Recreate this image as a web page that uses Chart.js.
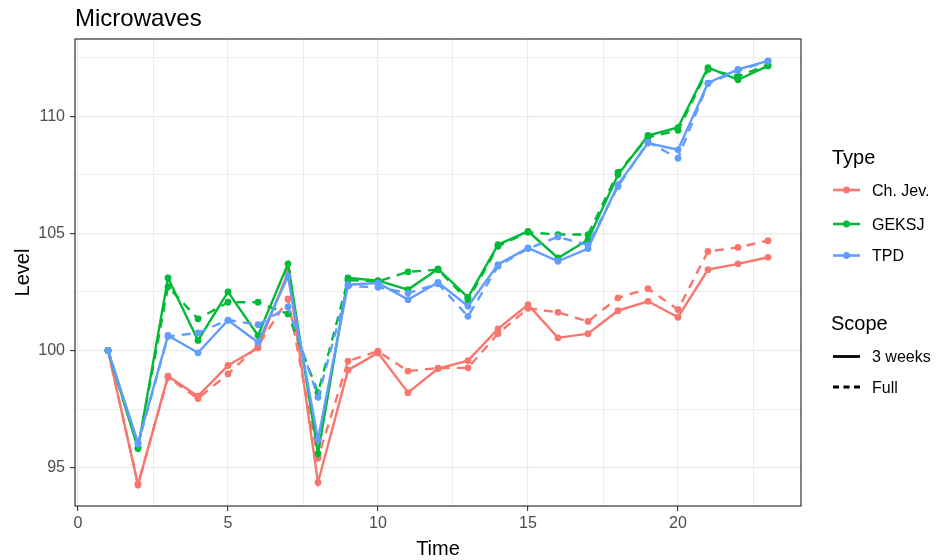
<!DOCTYPE html>
<html>
<head>
<meta charset="utf-8">
<script src="https://cdn.jsdelivr.net/npm/chart.js@4.4.1/dist/chart.umd.min.js"></script>
<style>
  html, body { margin: 0; padding: 0; background: #ffffff; }
  #wrap { width: 937px; height: 560px; position: relative; }
</style>
</head>
<body>
<div id="wrap"><canvas id="chart" width="937" height="560"></canvas></div>
<script>
// Time periods
const time = [1, 2, 3, 4, 5, 6, 7, 8, 9, 10, 11, 12, 13, 14, 15, 16, 17, 18, 19, 20, 21, 22, 23];

// Price index levels by method and window scope
const chJev3Weeks = [100, 94.26, 98.9, 98.05, 99.36, 100.11, 103.35, 94.36, 99.16, 99.9, 98.2, 99.23, 99.57, 100.92, 101.96, 100.54, 100.72, 101.7, 102.1, 101.42, 103.45, 103.7, 103.98];
const chJevFull   = [100, 94.3, 98.85, 97.95, 99.0, 100.2, 102.2, 95.4, 99.55, 99.97, 99.12, 99.25, 99.26, 100.72, 101.8, 101.63, 101.24, 102.25, 102.64, 101.75, 104.23, 104.4, 104.69];
const geksj3Weeks = [100, 95.82, 103.1, 100.43, 102.5, 100.64, 103.7, 95.6, 103.1, 102.98, 102.6, 103.48, 102.27, 104.52, 105.09, 103.95, 104.73, 107.5, 109.18, 109.52, 112.08, 111.56, 112.15];
const geksjFull   = [100, 95.85, 102.72, 101.35, 102.06, 102.06, 101.56, 98.2, 103.0, 102.95, 103.36, 103.45, 102.15, 104.45, 105.05, 104.95, 104.95, 107.6, 109.1, 109.4, 112.0, 111.7, 112.2];
const tpd3Weeks   = [100, 96.06, 100.64, 99.9, 101.29, 100.35, 103.17, 96.2, 102.81, 102.88, 102.17, 102.91, 101.89, 103.67, 104.38, 103.81, 104.35, 107.08, 108.86, 108.57, 111.42, 112.0, 112.37];
const tpdFull     = [100, 96.0, 100.6, 100.75, 101.3, 101.1, 101.86, 98.0, 102.75, 102.7, 102.45, 102.85, 101.46, 103.6, 104.35, 104.85, 104.5, 107.0, 108.9, 108.21, 111.4, 111.95, 112.35];

// Axis breaks
const xMajor = [0, 5, 10, 15, 20];
const xMinor = [2.5, 7.5, 12.5, 17.5, 22.5];
const yMajor = [95, 100, 105, 110];
const yMinor = [97.5, 102.5, 107.5, 112.5];

// Legend entries
const typeNames  = ['Ch. Jev.', 'GEKSJ', 'TPD'];
const scopeNames = ['3 weeks', 'Full'];

const COLORS = { 'Ch. Jev.': '#F8766D', 'GEKSJ': '#00BA38', 'TPD': '#619CFF' };
const DASH = [9, 7];
const FONT = '"Liberation Sans", Arial, sans-serif';

function series(label, values, type, dashed, order) {
  const c = COLORS[type];
  return {
    label: label,
    data: values.map((v, i) => ({ x: time[i], y: v })),
    borderColor: c,
    backgroundColor: c,
    pointBackgroundColor: c,
    pointBorderWidth: 0,
    pointRadius: 3.4,
    pointHoverRadius: 3.4,
    borderWidth: 2.4,
    borderDash: dashed ? DASH : [],
    tension: 0,
    fill: false,
    order: order
  };
}

const datasets = [
  series('Ch. Jev. – 3 weeks', chJev3Weeks, 'Ch. Jev.', false, 6),
  series('Ch. Jev. – Full', chJevFull, 'Ch. Jev.', true, 5),
  series('GEKSJ – 3 weeks', geksj3Weeks, 'GEKSJ', false, 4),
  series('GEKSJ – Full', geksjFull, 'GEKSJ', true, 3),
  series('TPD – 3 weeks', tpd3Weeks, 'TPD', false, 2),
  series('TPD – Full', tpdFull, 'TPD', true, 1)
];

const isMajor = (list, v) => list.some(m => Math.abs(m - v) < 1e-9);

// Title, axis titles, panel border and legend
const decorations = {
  id: 'decorations',
  afterDraw(chart) {
    const { ctx, chartArea: a } = chart;
    ctx.save();

    // panel border
    ctx.strokeStyle = '#333333';
    ctx.lineWidth = 1.2;
    ctx.setLineDash([]);
    ctx.strokeRect(a.left, a.top, a.right - a.left, a.bottom - a.top);

    // title
    ctx.fillStyle = '#000000';
    ctx.textAlign = 'left';
    ctx.textBaseline = 'alphabetic';
    ctx.font = '24px ' + FONT;
    ctx.fillText('Microwaves', 75, 26);

    // axis titles
    ctx.font = '20px ' + FONT;
    ctx.textAlign = 'center';
    ctx.fillText('Time', (a.left + a.right) / 2, 555);
    ctx.save();
    ctx.translate(29, (a.top + a.bottom) / 2);
    ctx.rotate(-Math.PI / 2);
    ctx.fillText('Level', 0, 0);
    ctx.restore();

    // legend: Type
    const keyX0 = 833, keyX1 = 860, labelX = 872;
    ctx.textAlign = 'left';
    ctx.font = '20px ' + FONT;
    ctx.fillText('Type', 832, 164);
    const typeY = [190, 224, 255.5];
    ctx.font = '16px ' + FONT;
    typeNames.forEach((name, i) => {
      const y = typeY[i];
      ctx.strokeStyle = COLORS[name];
      ctx.fillStyle = COLORS[name];
      ctx.lineWidth = 2.6;
      ctx.setLineDash([]);
      ctx.beginPath(); ctx.moveTo(keyX0, y); ctx.lineTo(keyX1, y); ctx.stroke();
      ctx.beginPath(); ctx.arc((keyX0 + keyX1) / 2, y, 3.4, 0, Math.PI * 2); ctx.fill();
      ctx.fillStyle = '#000000';
      ctx.fillText(name, labelX, y + 5.8);
    });

    // legend: Scope
    ctx.font = '20px ' + FONT;
    ctx.fillText('Scope', 831, 330);
    const scopeY = [356.5, 387];
    ctx.font = '16px ' + FONT;
    scopeNames.forEach((name, i) => {
      const y = scopeY[i];
      ctx.strokeStyle = '#000000';
      ctx.lineWidth = 2.8;
      ctx.setLineDash(i === 1 ? [6, 4.5] : []);
      ctx.beginPath(); ctx.moveTo(keyX0, y); ctx.lineTo(keyX1, y); ctx.stroke();
      ctx.setLineDash([]);
      ctx.fillStyle = '#000000';
      ctx.fillText(name, labelX, y + 5.8);
    });

    ctx.restore();
  }
};

new Chart(document.getElementById('chart'), {
  type: 'line',
  data: { datasets },
  plugins: [decorations],
  options: {
    responsive: false,
    animation: false,
    devicePixelRatio: 1,
    layout: { padding: { left: 0, top: 39, right: 136, bottom: 0 } },
    plugins: { legend: { display: false }, title: { display: false }, tooltip: { enabled: false } },
    scales: {
      x: {
        type: 'linear',
        min: -0.1,
        max: 24.1,
        afterBuildTicks(scale) {
          scale.ticks = xMajor.concat(xMinor).sort((p, q) => p - q).map(v => ({ value: v }));
        },
        afterFit(scale) { scale.height = 54; },
        border: { display: false },
        grid: {
          color: '#EBEBEB',
          lineWidth: ctx => isMajor(xMajor, ctx.tick.value) ? 1.2 : 0.9,
          tickColor: ctx => isMajor(xMajor, ctx.tick.value) ? '#333333' : 'rgba(0,0,0,0)',
          tickLength: 5,
          tickWidth: 1.1,
          drawTicks: true
        },
        ticks: {
          autoSkip: false,
          maxRotation: 0,
          padding: 3,
          color: '#4D4D4D',
          font: { family: FONT, size: 16 },
          callback: v => isMajor(xMajor, v) ? String(v) : ''
        }
      },
      y: {
        type: 'linear',
        min: 93.36,
        max: 113.3,
        afterBuildTicks(scale) {
          scale.ticks = yMajor.concat(yMinor).sort((p, q) => p - q).map(v => ({ value: v }));
        },
        afterFit(scale) { scale.width = 75; },
        border: { display: false },
        grid: {
          color: '#EBEBEB',
          lineWidth: ctx => isMajor(yMajor, ctx.tick.value) ? 1.2 : 0.9,
          tickColor: ctx => isMajor(yMajor, ctx.tick.value) ? '#333333' : 'rgba(0,0,0,0)',
          tickLength: 5,
          tickWidth: 1.1,
          drawTicks: true
        },
        ticks: {
          autoSkip: false,
          padding: 5,
          color: '#4D4D4D',
          font: { family: FONT, size: 16 },
          callback: v => isMajor(yMajor, v) ? String(v) : ''
        }
      }
    }
  }
});
</script>
</body>
</html>
